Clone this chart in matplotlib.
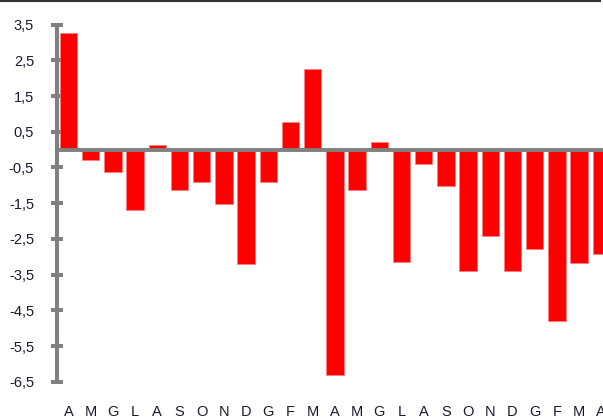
import numpy as np
import matplotlib.pyplot as plt
from matplotlib.lines import Line2D

# monthly labels (Italian initials), two years starting in April
months = ["A", "M", "G", "L", "A", "S", "O", "N", "D", "G", "F", "M",
          "A", "M", "G", "L", "A", "S", "O", "N", "D", "G", "F", "M", "A"]
values = [3.28, -0.30, -0.62, -1.68, 0.12, -1.14, -0.90, -1.53, -3.19, -0.90,
          0.77, 2.27, -6.30, -1.14, 0.21, -3.15, -0.40, -1.03, -3.41, -2.41,
          -3.41, -2.78, -4.80, -3.17, -2.91]
yticks = [3.5, 2.5, 1.5, 0.5, -0.5, -1.5, -2.5, -3.5, -4.5, -5.5, -6.5]

plt.rcParams['font.family'] = ['Liberation Sans', 'DejaVu Sans']

W, H = 603, 419
fig = plt.figure(figsize=(W / 100, H / 100), dpi=100)
left_px, right_px = 56.7, 612.4
top_px, bot_px = 24.7, 381.7
ax = fig.add_axes([left_px / W, 1 - bot_px / H,
                   (right_px - left_px) / W, (bot_px - top_px) / H])

x = np.arange(len(months))
ax.bar(x, values, width=0.78, color="#ff0000", edgecolor="#ff8080",
       linewidth=0.5, zorder=2)
ax.axhline(0, color="#808080", linewidth=2.8, zorder=3)

ax.set_xlim(-0.53, 24.5)
ax.set_ylim(-6.5, 3.5)

ax.set_yticks(yticks)
ax.set_yticklabels([f"{v:.1f}".replace(".", ",") for v in yticks])
ax.set_xticks(x)
ax.set_xticklabels(months)

for side in ["top", "right", "bottom"]:
    ax.spines[side].set_visible(False)
ax.spines["left"].set_color("#808080")
ax.spines["left"].set_linewidth(2.9)
ax.spines["left"].set_zorder(4)

ax.tick_params(axis="y", direction="inout", length=8.6, width=2.9,
               color="#808080", labelsize=10.5, labelcolor="#1a1a2e", pad=12)
ax.tick_params(axis="x", length=0, labelsize=10.5, labelcolor="#1a1a2e", pad=17)

# frame line at the top of the picture
fig.add_artist(Line2D([0, 600 / W], [1 - 1.5 / H, 1 - 1.5 / H],
                      transform=fig.transFigure, color="#333333", linewidth=1.5))

fig.savefig("out.png", dpi=100, facecolor="white")
